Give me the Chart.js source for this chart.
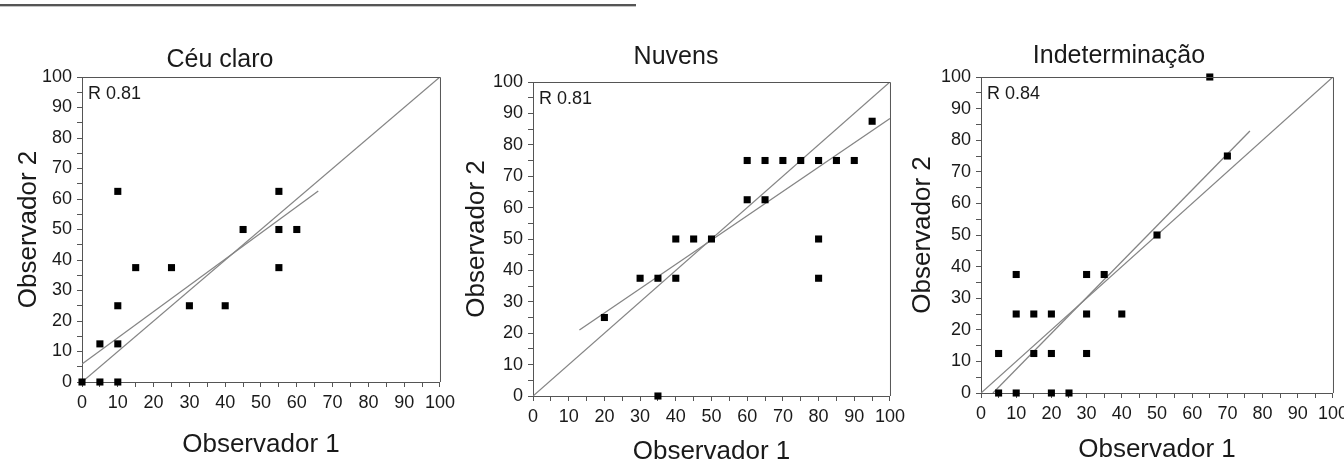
<!DOCTYPE html>
<html>
<head>
<meta charset="utf-8">
<script src="https://cdn.jsdelivr.net/npm/chart.js@4.4.1/dist/chart.umd.min.js"></script>
<style>
  html, body { margin: 0; padding: 0; background: #fff; width: 1344px; height: 470px; overflow: hidden; }
  .rule { position: absolute; left: 0; top: 4px; width: 636px; height: 2px; background: #555; border-bottom: 1px solid #c4c4c4; }
  .panel { position: absolute; top: 0; height: 470px; }
</style>
</head>
<body>
<div class="rule"></div>
<div class="panel" style="left:0;width:460px"><canvas id="c0"></canvas></div>
<div class="panel" style="left:460px;width:450px"><canvas id="c1"></canvas></div>
<div class="panel" style="left:905px;width:448px"><canvas id="c2"></canvas></div>
<script>
/* 3 scatter: Observador 1 vs Observador 2, garis 1:1 + garis regresi */

const TITLES = ['Céu claro', 'Nuvens', 'Indeterminação'];
const R_LABELS = ['R 0.81', 'R 0.81', 'R 0.84'];
const X_TITLE = 'Observador 1';
const Y_TITLE = 'Observador 2';

const MAJOR_TICKS = [0, 10, 20, 30, 40, 50, 60, 70, 80, 90, 100];
const MINOR_TICKS = [5, 15, 25, 35, 45, 55, 65, 75, 85, 95];

// garis 1:1
const IDENT_X = [0, 100];
const IDENT_Y = [0, 100];

// Céu claro
const ceuObs1 = [0, 5, 10, 5, 10, 10, 10, 15, 25, 30, 40, 45, 55, 55, 55, 60];
const ceuObs2 = [0, 0, 0, 12.5, 12.5, 25, 62.5, 37.5, 37.5, 25, 25, 50, 62.5, 50, 37.5, 50];
const ceuFitX = [0, 66];
const ceuFitY = [5.9, 62.6];

// Nuvens
const nuvObs1 = [20, 30, 35, 35, 40, 40, 45, 50, 60, 65, 60, 65, 70, 75, 80, 85, 90, 80, 80, 95];
const nuvObs2 = [25, 37.5, 37.5, 0, 37.5, 50, 50, 50, 62.5, 62.5, 75, 75, 75, 75, 75, 75, 75, 50, 37.5, 87.5];
const nuvFitX = [13, 100];
const nuvFitY = [21, 88.4];

// Indeterminação
const indObs1 = [5, 5, 10, 10, 10, 15, 15, 20, 20, 20, 25, 30, 30, 30, 35, 40, 50, 70, 65];
const indObs2 = [12.5, 0, 0, 25, 37.5, 25, 12.5, 25, 12.5, 0, 0, 37.5, 25, 12.5, 37.5, 25, 50, 75, 100];
const indFitX = [3.4, 76.4];
const indFitY = [0, 82.9];

const TEXT = '#1a1a1a';
const AXIS = '#555';
const LINE = '#858585';

Chart.defaults.font.family = '"Liberation Sans", Arial, sans-serif';
Chart.defaults.color = TEXT;

// posisi tiap panel (px, relatif ke canvas)
const LAYOUT = [
  { yWidth: 82, padRight: 20, titleTop: 45, titleBottom: 2, xHeight: 88, yTitlePad: 13, xTitlePad: 10 },
  { yWidth: 73, padRight: 18, titleTop: 42, titleBottom: 10, xHeight: 74, yTitlePad: 1, xTitlePad: 3 },
  { yWidth: 76, padRight: 20, titleTop: 41, titleBottom: 6, xHeight: 77, yTitlePad: 2, xTitlePad: 5 },
];

const SERIES = [
  [ceuObs1, ceuObs2, ceuFitX, ceuFitY],
  [nuvObs1, nuvObs2, nuvFitX, nuvFitY],
  [indObs1, indObs2, indFitX, indFitY],
];

const zip = (xs, ys) => xs.map((x, i) => ({ x, y: ys[i] }));

// bingkai atas/kanan + label R
const framePlugin = {
  id: 'frame',
  afterDraw(chart, args, opts) {
    const { ctx, chartArea: a } = chart;
    ctx.save();
    ctx.strokeStyle = AXIS;
    ctx.lineWidth = 1;
    ctx.beginPath();
    ctx.moveTo(a.left, a.top + 0.5);
    ctx.lineTo(a.right + 0.5, a.top + 0.5);
    ctx.lineTo(a.right + 0.5, a.bottom);
    ctx.stroke();
    ctx.fillStyle = TEXT;
    ctx.font = '18px "Liberation Sans", Arial, sans-serif';
    ctx.textBaseline = 'top';
    ctx.fillText(opts.label, a.left + 6, a.top + 8);
    ctx.restore();
  }
};

function setTicks(scale) {
  scale.ticks = MAJOR_TICKS.concat(MINOR_TICKS).sort((a, b) => a - b).map(v => ({ value: v }));
}

function axis(title, titlePad, size) {
  return {
    type: 'linear', min: 0, max: 100,
    afterBuildTicks: setTicks,
    ticks: {
      autoSkip: false, maxRotation: 0, padding: 5, color: TEXT, font: { size: 18 },
      callback: v => MAJOR_TICKS.includes(v) ? String(v) : '',
    },
    grid: { drawOnChartArea: false, tickLength: 5, color: AXIS },
    border: { color: AXIS },
    title: { display: true, text: title, color: TEXT, font: { size: 26 }, padding: titlePad },
    afterFit: size,
  };
}

function renderPanel(i) {
  const [obs1, obs2, fitX, fitY] = SERIES[i];
  const L = LAYOUT[i];

  new Chart(document.getElementById('c' + i), {
    type: 'scatter',
    data: {
      datasets: [
        { label: 'dados', data: zip(obs1, obs2), pointStyle: 'rect', pointRadius: 5, backgroundColor: '#000', borderWidth: 0, clip: false },
        { label: 'regressão', data: zip(fitX, fitY), showLine: true, pointRadius: 0, borderColor: LINE, borderWidth: 1.3 },
        { label: '1:1', data: zip(IDENT_X, IDENT_Y), showLine: true, pointRadius: 0, borderColor: LINE, borderWidth: 1.3 },
      ],
    },
    options: {
      responsive: true, maintainAspectRatio: false, animation: false,
      layout: { padding: { left: 0, right: L.padRight, top: 0, bottom: 0 } },
      plugins: {
        legend: { display: false },
        tooltip: { enabled: false },
        title: {
          display: true, text: TITLES[i], color: TEXT,
          font: { size: 25, weight: 'normal' },
          padding: { top: L.titleTop, bottom: L.titleBottom },
        },
        frame: { label: R_LABELS[i] },
      },
      scales: {
        x: axis(X_TITLE, { top: 0, bottom: L.xTitlePad }, s => { s.height = L.xHeight; }),
        y: axis(Y_TITLE, { top: L.yTitlePad, bottom: 0 }, s => { s.width = L.yWidth; }),
      },
    },
    plugins: [framePlugin],
  });
}

[0, 1, 2].forEach(renderPanel);
</script>
</body>
</html>
